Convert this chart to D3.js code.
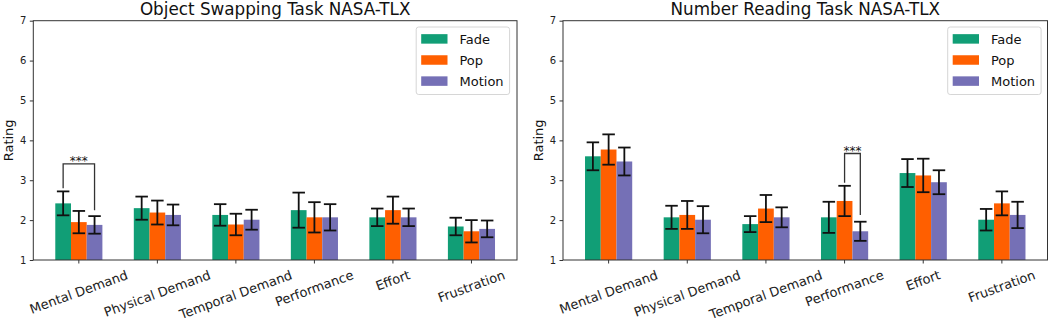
<!DOCTYPE html>
<html>
<head>
<meta charset="utf-8">
<script src="https://cdn.jsdelivr.net/npm/d3@7"></script>
<style>
  html, body { margin: 0; padding: 0; background: #fff; }
  svg { display: block; font-family: "DejaVu Sans", sans-serif; }
</style>
</head>
<body>
<svg id="chart" width="1052" height="323"></svg>
<script>
// ---- data ----
const categories = ["Mental Demand", "Physical Demand", "Temporal Demand", "Performance", "Effort", "Frustration"];
const conditions = ["Fade", "Pop", "Motion"];
const yTicks = [1, 2, 3, 4, 5, 6, 7];

const objTitle = "Object Swapping Task NASA-TLX";
const objFade = [2.42, 2.30, 2.13, 2.25, 2.07, 1.84];
const objFadeErr = [0.30, 0.29, 0.27, 0.44, 0.22, 0.22];
const objPop = [1.95, 2.19, 1.89, 2.07, 2.25, 1.72];
const objPopErr = [0.28, 0.30, 0.27, 0.38, 0.34, 0.28];
const objMotion = [1.88, 2.13, 2.01, 2.07, 2.07, 1.78];
const objMotionErr = [0.22, 0.26, 0.25, 0.33, 0.22, 0.21];
// significance bracket: [category index, from condition, to condition, top, left leg end, right leg end]
const objSig = [0, 0, 2, 3.41, 2.80, 2.25];

const numTitle = "Number Reading Task NASA-TLX";
const numFade = [3.60, 2.07, 1.90, 2.07, 3.18, 2.01];
const numFadeErr = [0.35, 0.29, 0.20, 0.39, 0.35, 0.27];
const numPop = [3.77, 2.13, 2.29, 2.48, 3.12, 2.42];
const numPopErr = [0.38, 0.35, 0.34, 0.38, 0.42, 0.30];
const numMotion = [3.47, 2.01, 2.07, 1.72, 2.95, 2.13];
const numMotionErr = [0.35, 0.34, 0.25, 0.24, 0.30, 0.33];
const numSig = [3, 1, 2, 3.67, 2.94, 2.13];

const sigLabel = "***";
const yLabel = "Rating";
const colors = ["#119e76", "#ff5f00", "#7570b6"];

// ---- drawing ----
const svg = d3.select("#chart");
const barW = 0.2;
const ctx = document.createElement("canvas").getContext("2d");
function textWidth(s, fs) {
  ctx.font = `${fs}px "DejaVu Sans"`;
  return ctx.measureText(s).width;
}

function panel(opts) {
  const { x0, x1, y0, y1, title, values, errs, sig, legendX } = opts;
  const g = svg.append("g");
  const x = d3.scaleLinear().domain([-0.58, 5.58]).range([x0, x1]);
  const y = d3.scaleLinear().domain([1, 7]).range([y1, y0]);

  // bars
  conditions.forEach((c, ci) => {
    const off = (ci - 1) * barW;
    g.selectAll(null).data(values[ci]).enter().append("rect")
      .attr("x", (d, i) => x(i + off - barW / 2))
      .attr("width", x(barW) - x(0))
      .attr("y", d => y(d))
      .attr("height", d => y(1) - y(d))
      .attr("fill", colors[ci]);
  });
  // error bars
  conditions.forEach((c, ci) => {
    const off = (ci - 1) * barW;
    values[ci].forEach((v, i) => {
      const cx = x(i + off);
      const e = errs[ci][i];
      g.append("line").attr("x1", cx).attr("x2", cx).attr("y1", y(v - e)).attr("y2", y(v + e))
        .attr("stroke", "#111").attr("stroke-width", 1.8);
      [v - e, v + e].forEach(t => {
        g.append("line").attr("x1", cx - 6.25).attr("x2", cx + 6.25).attr("y1", y(t)).attr("y2", y(t))
          .attr("stroke", "#111").attr("stroke-width", 1.8);
      });
    });
  });

  // significance bracket
  const [si, sa, sb, stop, sl, sr] = sig;
  const xa = x(si + (sa - 1) * barW), xb = x(si + (sb - 1) * barW);
  g.append("path")
    .attr("d", `M${xa},${y(sl)}V${y(stop)}H${xb}V${y(sr)}`)
    .attr("fill", "none").attr("stroke", "#333").attr("stroke-width", 1.3);
  g.append("text").attr("x", (xa + xb) / 2).attr("y", y(stop) + 1)
    .attr("text-anchor", "middle").attr("font-size", 12).attr("fill", "#111").text(sigLabel);

  // y axis
  const yAxis = d3.axisLeft(y).tickValues(yTicks).tickSize(3.5).tickPadding(3.5).tickFormat(d3.format("d"));
  const ya = g.append("g").attr("transform", `translate(${x0},0)`).call(yAxis);
  ya.select(".domain").remove();
  ya.selectAll("line").attr("stroke", "#333");
  ya.selectAll("text").attr("font-size", 10).attr("fill", "#222").attr("font-family", "DejaVu Sans");

  // x axis ticks
  const xa2 = g.append("g").attr("transform", `translate(0,${y1})`);
  categories.forEach((cat, i) => {
    xa2.append("line").attr("x1", x(i)).attr("x2", x(i)).attr("y1", 0).attr("y2", 3.5).attr("stroke", "#333");
  });
  const fs = 13, ang = 20 * Math.PI / 180;
  categories.forEach((cat, i) => {
    const w = textWidth(cat, fs);
    const h = fs * 1.17;
    const H = w * Math.sin(ang) + h * Math.cos(ang);
    xa2.append("text").attr("font-size", fs).attr("fill", "#222")
      .attr("text-anchor", "middle").attr("dy", "0.32em")
      .attr("transform", `translate(${x(i)},${7.5 + H / 2}) rotate(-20)`)
      .text(cat);
  });

  // frame
  g.append("rect").attr("x", x0).attr("y", y0).attr("width", x1 - x0).attr("height", y1 - y0)
    .attr("fill", "none").attr("stroke", "#333").attr("stroke-width", 1);

  // title
  g.append("text").attr("x", (x0 + x1) / 2).attr("y", y0 - 6).attr("text-anchor", "middle")
    .attr("font-size", 16.8).attr("fill", "#111").text(title);

  // y label
  g.append("text").attr("transform", `translate(${x0 - 20.5},${(y0 + y1) / 2}) rotate(-90)`)
    .attr("text-anchor", "middle").attr("font-size", 13).attr("fill", "#111").text(yLabel);

  // legend
  const lg = g.append("g").attr("transform", `translate(${legendX},27)`);
  lg.append("rect").attr("x", 0).attr("y", 0).attr("width", 93.4).attr("height", 67.5).attr("rx", 2.5)
    .attr("fill", "#fff").attr("fill-opacity", 0.8).attr("stroke", "#d6d6d6").attr("stroke-width", 1);
  conditions.forEach((c, ci) => {
    const cy = 11.9 + ci * 21.1;
    lg.append("rect").attr("x", 5).attr("y", cy - 4.75).attr("width", 26.3).attr("height", 9.5).attr("fill", colors[ci]);
    lg.append("text").attr("x", 43.3).attr("y", cy).attr("dy", "0.36em")
      .attr("font-size", 13).attr("fill", "#111").text(c);
  });
}

panel({ x0: 33.3, x1: 517, y0: 20.7, y1: 260, title: objTitle,
  values: [objFade, objPop, objMotion], errs: [objFadeErr, objPopErr, objMotionErr], sig: objSig, legendX: 416.2 });
panel({ x0: 563, x1: 1047.5, y0: 20.7, y1: 260, title: numTitle,
  values: [numFade, numPop, numMotion], errs: [numFadeErr, numPopErr, numMotionErr], sig: numSig, legendX: 947.7 });
</script>
</body>
</html>
